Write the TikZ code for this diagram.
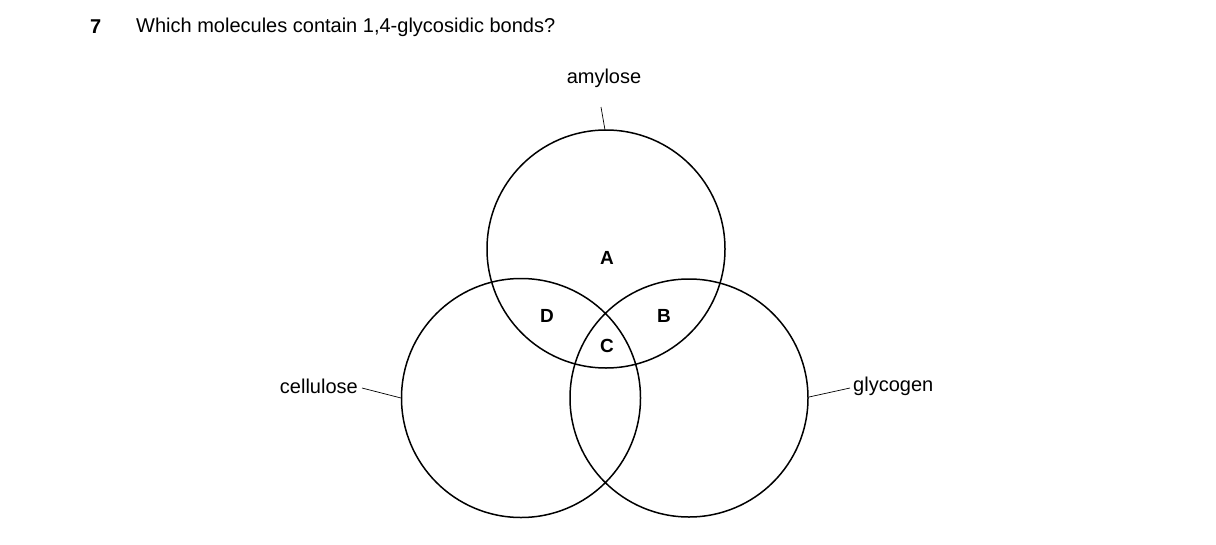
\documentclass[tikz,border=0pt]{standalone}
\usepackage{fontspec}
\setmainfont{Liberation Sans}
\begin{document}
\begin{tikzpicture}[x=1pt,y=-1pt,
  circ/.style={draw,line width=1.5pt},
  lbl/.style={font=\fontsize{20}{24}\selectfont,inner sep=0pt},
  reg/.style={font=\fontsize{19}{22}\selectfont\bfseries,inner sep=0pt},
  lead/.style={line width=0.7pt}]
\useasboundingbox (0,0) rectangle (1216,544);
\node[lbl,font=\fontsize{20}{24}\selectfont\bfseries,anchor=west] (num) at (90,27) {7};
\node[lbl,anchor=west] (q) at (136,27) {Which molecules contain 1,4-glycosidic bonds?};
\node[circ,circle,minimum size=238pt,inner sep=0pt] (am) at (606,249) {};
\node[circ,circle,minimum size=239pt,inner sep=0pt] (ce) at (521,398) {};
\node[circ,circle,minimum size=238pt,inner sep=0pt] (gl) at (689,398) {};
\node[lbl] (tam) at (604,78) {amylose};
\node[lbl,anchor=east] (tce) at (358,386) {cellulose};
\node[lbl,anchor=west] (tgl) at (853,386) {glycogen};
\coordinate (a1) at (601,107); \coordinate (a2) at (605,130);
\coordinate (c1) at (362,388); \coordinate (c2) at (401,398);
\coordinate (g1) at (850,388); \coordinate (g2) at (809,397);
\draw[lead] (a1) -- (a2);
\draw[lead] (c1) -- (c2);
\draw[lead] (g1) -- (g2);
\node[reg] (A) at (607,258) {A};
\node[reg] (D) at (547,316) {D};
\node[reg] (B) at (664,316) {B};
\node[reg] (C) at (607,346) {C};
\end{tikzpicture}
\end{document}
